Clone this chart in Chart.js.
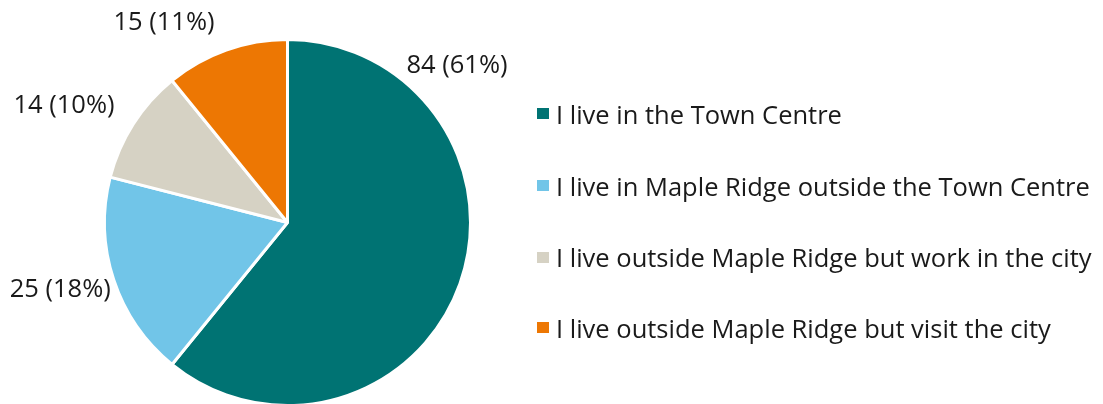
<!DOCTYPE html>
<html>
<head>
<meta charset="utf-8">
<script src="https://cdn.jsdelivr.net/npm/chart.js@4.4.0/dist/chart.umd.min.js"></script>
<style>
  html, body { margin: 0; padding: 0; background: #fff; overflow: hidden; width: 1103px; height: 404px; }
  #wrap { position: relative; width: 1103px; height: 404px; overflow: hidden; }
  #c { position: absolute; left: 0; top: 0; }
  #legend { position: absolute; left: 537px; top: 0; font-family: "Open Sans", sans-serif; font-size: 25.5px; color: #1a1a1a; }
  .item { position: absolute; left: 0; white-space: nowrap; display: flex; align-items: center; height: 36px; }
  .box { width: 12px; height: 11px; margin-right: 7px; }
</style>
</head>
<body>
<div id="wrap">
  <canvas id="c" width="1103" height="412" style="width:1103px;height:412px"></canvas>
  <div id="legend"></div>
</div>
<script>
const categories = [
  "I live in the Town Centre",
  "I live in Maple Ridge outside the Town Centre",
  "I live outside Maple Ridge but work in the city",
  "I live outside Maple Ridge but visit the city"
];
const values = [84, 25, 14, 15];
const percentLabels = ["61%", "18%", "10%", "11%"];
const colors = ["#007373", "#71C5E8", "#D6D2C4", "#ED7703"];

// label placement: angle (deg clockwise from top) and distance from centre
const labelPlacement = [
  {angle: 47.2, dist: 231},
  {angle: 253.5, dist: 237},
  {angle: 297.5, dist: 252},
  {angle: 328.3, dist: 235}
];
const legendRows = [113.5, 185.5, 257, 327.5];

const labelPlugin = {
  id: 'outLabels',
  afterDatasetsDraw(chart) {
    const ctx = chart.ctx;
    const meta = chart.getDatasetMeta(0);
    ctx.save();
    ctx.font = '25.5px "Open Sans", sans-serif';
    ctx.fillStyle = '#1a1a1a';
    ctx.textAlign = 'center';
    ctx.textBaseline = 'middle';
    meta.data.forEach((arc, i) => {
      const p = labelPlacement[i];
      const a = p.angle * Math.PI / 180;
      const x = arc.x + p.dist * Math.sin(a);
      const y = arc.y - p.dist * Math.cos(a);
      ctx.fillText(values[i] + ' (' + percentLabels[i] + ')', x, y);
    });
    ctx.restore();
  }
};

const chart = new Chart(document.getElementById('c'), {
  type: 'pie',
  data: {
    labels: categories,
    datasets: [{
      data: values,
      backgroundColor: colors,
      borderColor: '#ffffff',
      borderWidth: 3
    }]
  },
  options: {
    responsive: false,
    animation: false,
    events: [],
    layout: { padding: { top: 38, bottom: 5, left: 103, right: 631 } },
    plugins: {
      legend: { display: false },
      tooltip: { enabled: false }
    }
  },
  plugins: [labelPlugin]
});

const legend = document.getElementById('legend');
categories.forEach((c, i) => {
  const it = document.createElement('div');
  it.className = 'item';
  it.style.top = (legendRows[i] - 18) + 'px';
  const b = document.createElement('span');
  b.className = 'box';
  b.style.background = colors[i];
  const t = document.createElement('span');
  t.textContent = c;
  it.appendChild(b);
  it.appendChild(t);
  legend.appendChild(it);
});
</script>
</body>
</html>
